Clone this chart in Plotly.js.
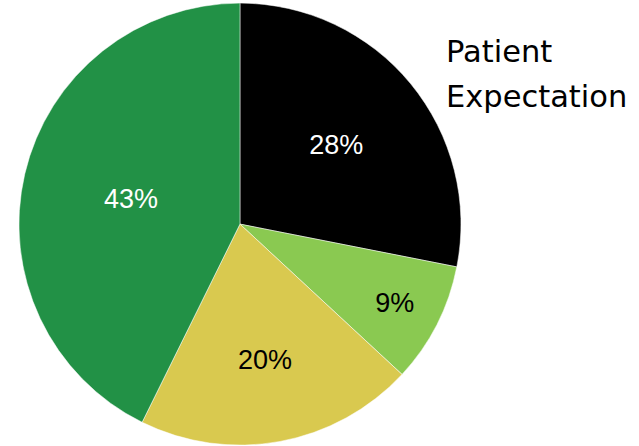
<!DOCTYPE html>
<html><head><meta charset="utf-8">
<script src="https://cdn.plot.ly/plotly-3.0.1.min.js"></script>
<style>html,body{margin:0;padding:0;background:#fff}#chart{width:639px;height:446px}</style>
</head><body><div id="chart"></div>
<script>
const labels = ["Black", "Light green", "Yellow", "Green"];
const values = [28.1, 8.8, 20.4, 42.7];
const colors = ["#000000", "#8AC951", "#D9C94F", "#229146"];
const textColors = ["#ffffff", "#000000", "#000000", "#ffffff"];
const titleLines = ["Patient", "Expectation"];

const trace = {
  type: "pie",
  labels: labels,
  values: values,
  sort: false,
  direction: "clockwise",
  rotation: 0,
  marker: {colors: colors, line: {color: "#ffffff", width: 0.5}},
  textinfo: "percent",
  texttemplate: "%{percent:.0%}",
  textposition: "inside",
  insidetextorientation: "horizontal",
  insidetextfont: {family: "Liberation Sans, Arial, sans-serif", size: 27, color: textColors},
  hoverinfo: "none",
  showlegend: false,
  domain: {x: [0.0297, 0.7214], y: [0.002, 0.993]}
};

const layout = {
  width: 639, height: 446,
  margin: {l: 0, r: 0, t: 0, b: 0},
  paper_bgcolor: "#ffffff",
  plot_bgcolor: "#ffffff",
  showlegend: false,
  annotations: titleLines.map((t, i) => ({
    text: t, xref: "paper", yref: "paper",
    x: 444/639, y: 1 - (i === 0 ? 51 : 97)/446,
    xanchor: "left", yanchor: "middle", showarrow: false,
    font: {family: "DejaVu Sans, sans-serif", size: 30.5, color: "#000000"}
  }))
};

Plotly.newPlot("chart", [trace], layout, {displayModeBar: false, staticPlot: true});
</script>
</body></html>
